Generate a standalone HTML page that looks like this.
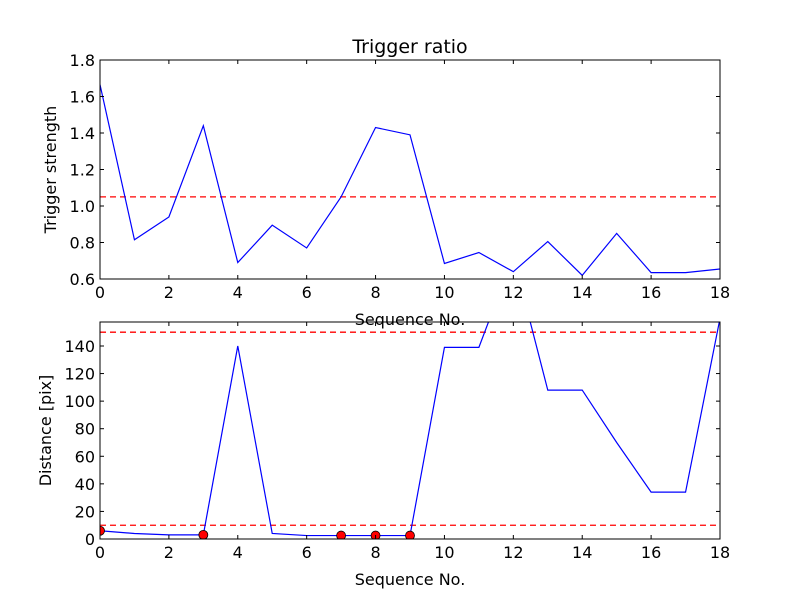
<!DOCTYPE html>
<html><head><meta charset="utf-8"><style>
body{margin:0;background:#fff;}
svg{display:block;font-family:"DejaVu Sans","Liberation Sans",sans-serif;}
</style></head><body>
<svg id="c" width="800" height="600" viewBox="0 0 800 600">
<rect width="800" height="600" fill="#fff"/>
<defs>
<clipPath id="cp1"><rect x="100" y="60" width="620" height="219"/></clipPath>
<clipPath id="cp2"><rect x="100" y="322" width="620" height="217"/></clipPath>
</defs>
<text x="410" y="53" font-size="19" text-anchor="middle">Trigger ratio</text>
<g id="g1"></g><g id="g2"></g>
</svg>
<script>
const seq=[0,1,2,3,4,5,6,7,8,9,10,11,12,13,14,15,16,17,18];
const strength=[1.665,0.815,0.94,1.44,0.69,0.895,0.77,1.05,1.43,1.39,0.685,0.745,0.64,0.805,0.62,0.85,0.635,0.635,0.655];
const strengthThreshold=1.05;
const distance=[6,4,3,3,140,4,2.5,2.5,2.5,2.5,139,139,205,108,108,70,34,34,160];
const distThresholds=[150,10];
const markedIdx=[0,3,7,8,9];
const xTicks=[0,2,4,6,8,10,12,14,16,18];
const yTicks1=[0.6,0.8,1.0,1.2,1.4,1.6,1.8];
const yTicks2=[0,20,40,60,80,100,120,140];
const NS="http://www.w3.org/2000/svg";
function mk(p,t,a){const e=document.createElementNS(NS,t);for(const k in a)e.setAttribute(k,a[k]);p.appendChild(e);return e;}
function axes(g,top,bot,ymin,ymax,vals,yt,fmt,ylabel,clip,dashes,showXlabel,name){
  const L=100,R=720;
  const sx=v=>L+(v-0)/(18-0)*(R-L);
  const sy=v=>bot-(v-ymin)/(ymax-ymin)*(bot-top);
  const cg=mk(g,'g',{'clip-path':'url(#'+clip+')'});
  dashes.forEach(d=>{const l=mk(cg,'line',{x1:L,x2:R,y1:sy(d),y2:sy(d),stroke:'#ff0000','stroke-width':1.3,'stroke-dasharray':'6,4'});
    
    });
  const pl=mk(cg,'polyline',{points:seq.map((s,i)=>sx(s)+','+sy(vals[i])).join(' '),fill:'none',stroke:'#0000ff','stroke-width':1.2});
  
  
  if(name==='distance'){markedIdx.forEach(i=>{const c=mk(cg,'circle',{cx:sx(seq[i]),cy:sy(vals[i]),r:4.5,fill:'#ff0000',stroke:'#000','stroke-width':0.8});
    
    });}
  const fr=mk(g,'rect',{x:L,y:top,width:R-L,height:bot-top,fill:'none',stroke:'#000','stroke-width':1});
  
  
  xTicks.forEach(t=>{const x=sx(t);
    mk(g,'line',{x1:x,x2:x,y1:bot,y2:bot-4,stroke:'#000'});mk(g,'line',{x1:x,x2:x,y1:top,y2:top+4,stroke:'#000'});
    const tx=mk(g,'text',{x:x,y:bot+19,'font-size':16,'text-anchor':'middle'});tx.textContent=t;
    
    });
  yt.forEach(t=>{const y=sy(t);
    mk(g,'line',{x1:L,x2:L+4,y1:y,y2:y,stroke:'#000'});mk(g,'line',{x1:R,x2:R-4,y1:y,y2:y,stroke:'#000'});
    const tx=mk(g,'text',{x:L-5,y:y+6,'font-size':16,'text-anchor':'end'});tx.textContent=fmt(t);
    
    });
  const yl=mk(g,'text',{x:0,y:0,'font-size':16,'text-anchor':'middle',transform:'translate('+(name==='distance'?51:56)+','+((top+bot)/2)+') rotate(-90)'});yl.textContent=ylabel;
  
  
  const xl=mk(g,'text',{x:410,y:bot+46,'font-size':16,'text-anchor':'middle'});xl.textContent='Sequence No.';
  
  
}
axes(document.getElementById('g1'),60,279,0.6,1.8,strength,yTicks1,t=>t.toFixed(1),'Trigger strength','cp1',[strengthThreshold],true,'strength');
axes(document.getElementById('g2'),322,539,0,157.4,distance,yTicks2,t=>String(t),'Distance [pix]','cp2',distThresholds,true,'distance');
</script>
</body></html>
